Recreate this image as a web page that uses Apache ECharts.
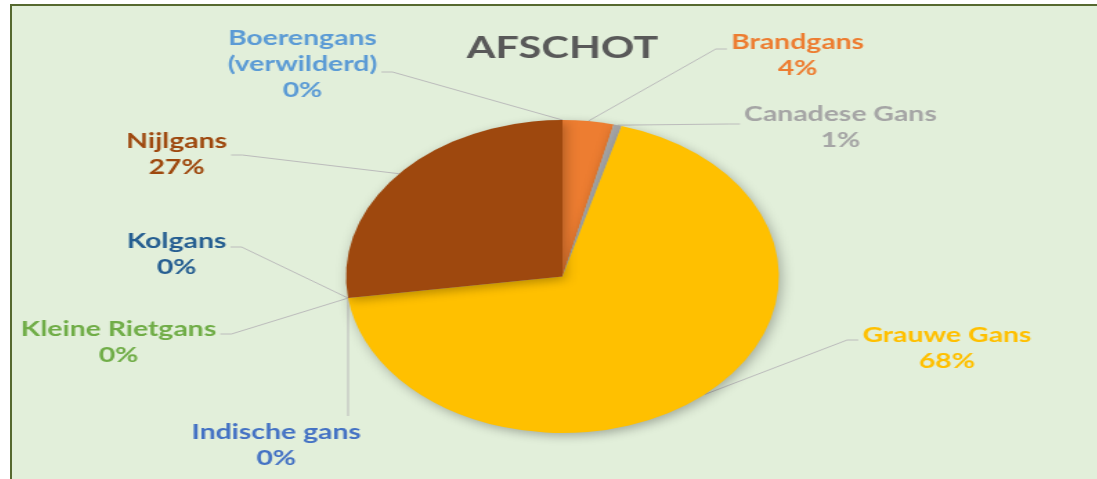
<!DOCTYPE html>
<html>
<head>
<meta charset="utf-8">
<script src="https://cdn.jsdelivr.net/npm/echarts@6/dist/echarts.min.js"></script>
<style>
    html, body { margin: 0; width: 1097px; height: 479px; overflow: hidden; background: #fff; }
    #frame {
        position: absolute; left: 10px; top: 4px; width: 1100px; height: 490px;
        border-top: 2px solid #56692f; border-left: 2px solid #56692f;
        box-shadow: inset 1px 1px 0 #c9d4c2;
        background: #e2efda;
    }
    /* het origineel is horizontaal uitgerekt, dus de grafiek ook */
    #chart {
        position: absolute; left: 12px; top: 6px; width: 796px; height: 473px;
        transform: scaleX(1.383); transform-origin: 0 0;
    }
</style>
</head>
<body>
<div id="frame"></div>
<div id="chart"></div>
<script>
const categories = ['Boerengans (verwilderd)', 'Brandgans', 'Canadese Gans', 'Grauwe Gans',
    'Indische gans', 'Kleine Rietgans', 'Kolgans', 'Nijlgans'];
const shares = [0, 3.8, 0.6, 68.4, 0, 0, 0, 27.2];
const sliceColors = ['#5b9bd5', '#ed7d31', '#a5a5a5', '#ffc000', '#4472c4', '#70ad47', '#255e91', '#9e480e'];

// plek van elk label: [x, y, kant waar de lijn vertrekt, verschuiving van de lijn]
const labelSpots = [
    [210, 58, 'r', 8],
    [568, 49, 'l', -6],
    [599, 121, 'l', -3],
    [676, 342, 'l', -8],
    [191, 439, 't', 0],
    [77, 336, 'r', -8],
    [119, 248, 'r', -7],
    [119, 148, 'r', 1],
];

const cx = 398, cy = 270.5, R = 156.5;
const fontFam = 'Lato, "Noto Sans", sans-serif';

const total = shares.reduce((a, b) => a + b, 0);
let acc = 0;
const midAngles = shares.map(v => {
    const a = (acc + v / 2) / total * Math.PI * 2;
    acc += v;
    return a;
});

function rimPoint(i){
    const a = midAngles[i];
    return [cx + R * Math.sin(a), cy - R * Math.cos(a)];
}

const myChart = echarts.init(document.getElementById('chart'));

const option = {
    animation: false,
    backgroundColor: '#e2efda',
    title: {
        text: 'AFSCHOT',
        left: 'center',
        top: 27,
        padding: 0,
        textStyle: { color: '#595959', fontSize: 30, fontWeight: 'bold', fontFamily: fontFam },
    },
    series: [{
        type: 'pie',
        center: [cx, cy],
        radius: R,
        startAngle: 90,
        clockwise: true,
        percentPrecision: 0,
        avoidLabelOverlap: false,
        data: categories.map((name, i) => ({
            name,
            value: shares[i],
            itemStyle: { color: sliceColors[i] },
            label: { color: sliceColors[i] },
        })),
        itemStyle: {
            shadowBlur: 10,
            shadowColor: 'rgba(0,0,0,0.28)',
            shadowOffsetX: 2,
            shadowOffsetY: 3,
        },
        label: {
            show: true,
            position: 'outside',
            formatter: p => `${p.name.replace(' (', '\n(')}\n${p.percent}%`,
            fontFamily: fontFam,
            fontWeight: 'bold',
            fontSize: 20.5,
            lineHeight: 26,
            align: 'center',
        },
        labelLine: { show: true, lineStyle: { color: '#bcbcbc', width: 1 } },
        labelLayout: params => {
            const i = params.dataIndex;
            const [x, y, side, dy] = labelSpots[i];
            const w = params.labelRect.width, h = params.labelRect.height;
            const rim = rimPoint(i);
            let end, elbow;
            if (side === 'r'){
                end = [x + w / 2 + 3, y + dy];
                elbow = [end[0] + 8, end[1]];
            } else if (side === 'l'){
                end = [x - w / 2 - 3, y + dy];
                elbow = [end[0] - 8, end[1]];
            } else {
                end = [rim[0], y - h / 2 - 3];
                elbow = end;
            }
            return {
                x, y,
                align: 'center',
                verticalAlign: 'middle',
                labelLinePoints: [rim, elbow, end],
            };
        },
        emphasis: { disabled: true },
    }],
};

myChart.setOption(option);
</script>
</body>
</html>
